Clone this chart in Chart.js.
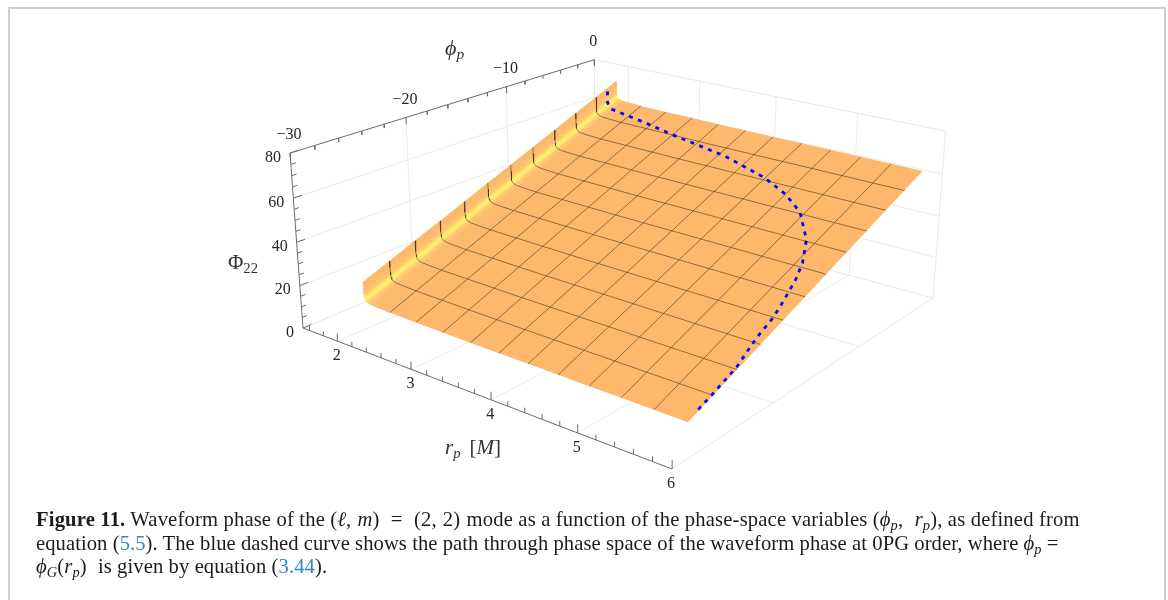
<!DOCTYPE html>
<html><head><meta charset="utf-8">
<script src="https://cdn.jsdelivr.net/npm/chart.js@4"></script>
<style>
html,body{margin:0;padding:0;background:#fff;overflow:hidden}
#wrap{position:relative;width:1168px;height:600px;font-family:"Liberation Serif",serif;color:#1c1c1c}
#frame{position:absolute;left:8px;top:7px;width:1158px;height:620px;border:2px solid #cfcfcf;box-sizing:border-box}
canvas{position:absolute;left:0;top:0}
.t{position:absolute;white-space:nowrap;line-height:1}
.cap{font-size:20.6px;left:36px}
.lnk{color:#2a8bbf}
.m{padding:0 3px}
i sub,sub{font-size:70%;line-height:0;vertical-align:-.28em}
.ax{font-size:21px;color:#333}
</style></head><body>
<div id="wrap">
<div id="frame"></div>
<canvas id="c" width="1168" height="600"></canvas>
<div class="t ax" style="left:445px;top:37px;font-size:22px"><i>ϕ<sub>p</sub></i></div>
<div class="t ax" style="left:228px;top:252px">Φ<sub>22</sub></div>
<div class="t ax" style="left:445px;top:437px"><i>r<sub>p</sub></i><span style="margin-left:9px">[<i>M</i>]</span></div>
<div class="t cap" style="top:509px;letter-spacing:.17px"><b>Figure 11.</b> Waveform phase of the (<i>ℓ</i>,<span class="m"></span><i>m</i>)<span class="m"></span> = <span class="m"></span>(2,<span class="m"></span>2)<span style="padding-left:1px"></span> mode as a function of the phase-space variables (<i>ϕ<sub>p</sub></i>,<span class="m"></span> <i>r<sub>p</sub></i>), as defined from</div>
<div class="t cap" style="top:533px;letter-spacing:.07px">equation (<span class="lnk">5.5</span>). The blue dashed curve shows the path through phase space of the waveform phase at 0PG order, where <i>ϕ<sub>p</sub></i> =</div>
<div class="t cap" style="top:556px;letter-spacing:.1px"><i>ϕ<sub>G</sub></i>(<i>r<sub>p</sub></i>)<span class="m"></span> is given by equation (<span class="lnk">3.44</span>).</div>
</div>
<script>
// ---- axis ticks ----
const phiTicks = [-30,-20,-10,0];
const phiMinor = [-28,-26,-24,-22,-18,-16,-14,-12,-8,-6,-4,-2];
const rTicks = [2,3,4,5,6];
const rMinor = [1.6,1.8,2.2,2.4,2.6,2.8,3.2,3.4,3.6,3.8,4.2,4.4,4.6,4.8,5.2,5.4,5.6,5.8];
const phaseTicks = [0,20,40,60,80];
const phaseMinor = [5,10,15,25,30,35,45,50,55,65,70,75];
const gridPhi = [-20,-10];
const gridR = [2,3,4,5];
const gridPhase = [20,40,60];

const surfPhi = [-28.6,-26.26,-23.93,-21.59,-19.25,-16.92,-14.58,-12.25,-9.91,-7.57,-5.24,-2.9];
const surfR = [2.17,2.1715,2.173,2.176,2.18,2.19,2.21,2.25,2.35,2.518,2.866,3.214,3.563,3.911,4.259,4.607,4.955,5.304,5.652,6];
const surfPhase = [
[26.3,31.0,35.6,40.3,45.0,49.7,54.3,59.0,63.7,68.4,73.0,77.7],
[23.3,28.0,32.6,37.3,42.0,46.7,51.3,56.0,60.7,65.4,70.0,74.7],
[21.3,26.0,30.6,35.3,40.0,44.7,49.3,54.0,58.7,63.4,68.0,72.7],
[19.8,24.5,29.1,33.8,38.5,43.2,47.8,52.5,57.2,61.9,66.5,71.2],
[18.8,23.5,28.1,32.8,37.5,42.2,46.8,51.5,56.2,60.9,65.5,70.2],
[18.0,22.7,27.3,32.0,36.7,41.4,46.0,50.7,55.4,60.1,64.7,69.4],
[17.4,22.1,26.7,31.4,36.1,40.8,45.4,50.1,54.8,59.5,64.1,68.8],
[17.0,21.7,26.3,31.0,35.7,40.4,45.0,49.7,54.4,59.1,63.7,68.4],
[16.7,21.4,26.0,30.7,35.4,40.1,44.7,49.4,54.1,58.8,63.4,68.1],
[16.4,21.1,25.7,30.4,35.1,39.8,44.4,49.1,53.8,58.5,63.1,67.8],
[16.2,20.9,25.5,30.2,34.9,39.6,44.2,48.9,53.6,58.3,62.9,67.6],
[16.0,20.7,25.3,30.0,34.7,39.4,44.0,48.7,53.4,58.1,62.7,67.4],
[15.8,20.5,25.1,29.8,34.5,39.2,43.8,48.5,53.2,57.9,62.5,67.2],
[15.7,20.4,25.0,29.7,34.4,39.1,43.7,48.4,53.1,57.8,62.4,67.1],
[15.6,20.3,24.9,29.6,34.3,39.0,43.6,48.3,53.0,57.7,62.3,67.0],
[15.5,20.2,24.8,29.5,34.2,38.9,43.5,48.2,52.9,57.6,62.2,66.9],
[15.4,20.1,24.7,29.4,34.1,38.8,43.4,48.1,52.8,57.5,62.1,66.8],
[15.3,20.0,24.6,29.3,34.0,38.7,43.3,48.0,52.7,57.4,62.0,66.7],
[15.2,19.9,24.5,29.2,33.9,38.6,43.2,47.9,52.6,57.3,61.9,66.6],
[15.1,19.8,24.4,29.1,33.8,38.5,43.1,47.8,52.5,57.2,61.8,66.5]];
// ---- 0PG path ----
const pathPhi = [-27.65,-26.4,-23.9,-21.3,-19.4,-18.0,-15.9,-14.3,-12.2,-9.84,-8.49,-7.39,-6.13,-5.18,-4.6,-3.86,-3.9,-3.9];
const pathR = [6.0,6.0,5.99,5.93,5.91,5.87,5.8,5.72,5.56,5.26,4.96,4.61,3.99,3.22,2.81,2.21,2.168,2.166];
const pathPhase = [17.7,20.2,25.2,30.4,34.2,37.0,41.2,44.4,48.6,53.3,56.0,58.2,60.7,62.6,63.8,65.3,68.2,76.0];
// colours of the strips across the knee of the surface
const kneeColors = ['#fdb96b','#fdbd6b','#fec66c','#ffdc6c','#fff26f','#ffe56e','#fec96d','#fdbc6d','#fdb96e'];

// camera of the 3D box
function project(phi,r,ph){
  const u=(phi+30)/30, v=(r-1.5)/4.5, w=ph/80;
  const d=1+.22112*u-.16758*v-.04*w;
  return {x:(303+423.6*u+256.4*v-24.6*w)/d, y:(328-76.4*u+62.4*v-181.1*w)/d};
}
const GAP={x:NaN,y:NaN};
const seg=(a,b)=>[project(...a),project(...b),GAP];
const PHI0=-30,PHI1=0,R0=1.5,R1=6,Z0=0,Z1=80;

// faint box and face grids
let grid=[];
gridPhi.forEach(p=>{grid.push(...seg([p,R0,Z0],[p,R0,Z1]),...seg([p,R0,Z0],[p,R1,Z0]));});
gridR.forEach(r=>{grid.push(...seg([PHI1,r,Z0],[PHI1,r,Z1]),...seg([PHI0,r,Z0],[PHI1,r,Z0]));});
gridPhase.forEach(z=>{grid.push(...seg([PHI0,R0,z],[PHI1,R0,z]),...seg([PHI1,R0,z],[PHI1,R1,z]));});
let box=[...seg([PHI1,R0,Z1],[PHI1,R1,Z1]),...seg([PHI1,R1,Z1],[PHI1,R1,Z0]),...seg([PHI1,R1,Z0],[PHI0,R1,Z0]),
 ...seg([PHI1,R0,Z1],[PHI1,R0,Z0]),...seg([PHI1,R0,Z0],[PHI1,R1,Z0]),...seg([PHI1,R0,Z0],[PHI0,R0,Z0])];
// dark axes and ticks
let axes=[...seg([PHI0,R0,Z1],[PHI1,R0,Z1]),...seg([PHI0,R0,Z0],[PHI0,R0,Z1]),...seg([PHI0,R0,Z0],[PHI0,R1,Z0])];
phiTicks.forEach(p=>axes.push(...seg([p,R0,Z1],[p,R0,Z1-3.2])));
phiMinor.forEach(p=>axes.push(...seg([p,R0,Z1],[p,R0,Z1-1.8])));
phaseTicks.forEach(z=>axes.push(...seg([PHI0,R0,z],[PHI0+.7,R0,z])));
phaseMinor.forEach(z=>axes.push(...seg([PHI0,R0,z],[PHI0+.4,R0,z])));
rTicks.forEach(r=>axes.push(...seg([PHI0,r,Z0],[PHI0,r,Z0+3.6])));
rMinor.forEach(r=>axes.push(...seg([PHI0,r,Z0],[PHI0,r,Z0+2.2])));

const line=(data,color,width,extra)=>Object.assign({type:'scatter',showLine:true,data,borderColor:color,borderWidth:width,pointRadius:0,tension:0,fill:false},extra||{});
const paint=[line(grid,'#ebebeb',1),line(box,'#e8e8e8',1)];

// surface strips
const last=surfPhi.length-1;
const edge=(i,j)=>project(surfPhi[j],surfR[i],surfPhase[i][j]);
const rowPts=i=>surfPhi.map((_,j)=>edge(i,j));
kneeColors.forEach((col,i)=>{
  const poly=[...rowPts(i),...rowPts(i+1).reverse()];
  poly.push(poly[0]);
  paint.push(line(poly,col,.6,{fill:'shape',backgroundColor:col}));
});
const flat=[];
for(let i=9;i<surfR.length;i++)flat.push(edge(i,last));
for(let i=surfR.length-1;i>=9;i--)flat.push(edge(i,0));
flat.push(flat[0]);
paint.push(line(flat,'rgba(0,0,0,0)',0,{fill:'shape',backgroundColor:'rgba(253,178,95,.92)'}));

// mesh
let mesh=[];
for(let j=1;j<last;j++){surfR.forEach((_,i)=>mesh.push(edge(i,j)));mesh.push(GAP);}
for(let i=9;i<surfR.length-1;i++){surfPhi.forEach((_,j)=>mesh.push(edge(i,j)));mesh.push(GAP);}
paint.push(line(mesh,'rgba(35,30,20,.62)',.8));
paint.push(line(axes,'#6a6a6a',1));
paint.push(line(pathPhi.map((p,i)=>project(p,pathR[i],pathPhase[i])),'#0000ff',2.8,{borderDash:[4,5.5],tension:0}));

// tick label plugin
const tickText={id:'tickText',afterDatasetsDraw(ch){
  const c=ch.ctx,X=ch.scales.x,Y=ch.scales.y;
  c.save();c.font='16px "Liberation Serif"';c.fillStyle='#262626';c.textBaseline='middle';
  const put=(txt,p,dx,dy,al)=>{c.textAlign=al;c.fillText(txt,X.getPixelForValue(p.x)+dx,Y.getPixelForValue(p.y)+dy);};
  phiTicks.forEach(v=>put(String(v).replace('-','−'),project(v,R0,Z1),-1,-18,'center'));
  phaseTicks.forEach(v=>put(String(v),project(PHI0,R0,v),-9,4.5,'right'));
  rTicks.forEach(v=>put(String(v),project(PHI0,v,Z0),-1,14.5,'center'));
  c.restore();
}};

new Chart(document.getElementById('c'),{
  type:'scatter',
  data:{datasets:paint.slice().reverse()},
  plugins:[tickText],
  options:{responsive:false,animation:false,events:[],
    layout:{padding:0},
    plugins:{legend:{display:false},tooltip:{enabled:false}},
    scales:{x:{type:'linear',min:0,max:1168,display:false},y:{type:'linear',min:0,max:600,reverse:true,display:false}}}
});
</script>
</body></html>
